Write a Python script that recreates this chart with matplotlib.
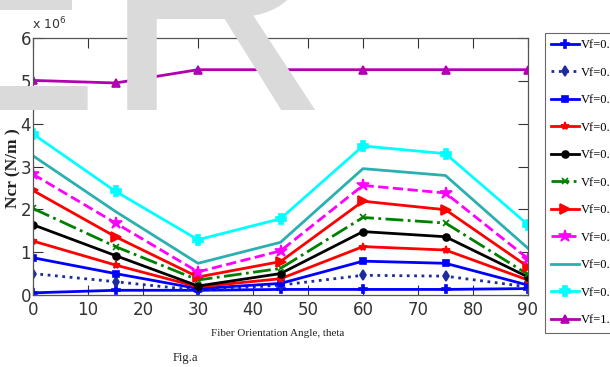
import matplotlib
matplotlib.use("Agg")
import matplotlib.pyplot as plt

# ─── Data (values in units of 1e6 N/m) ───────────────────────────────────────

theta = [0, 15, 30, 45, 60, 75, 90]

vf_labels = ["Vf=0.0", "Vf=0.1", "Vf=0.2", "Vf=0.3", "Vf=0.4", "Vf=0.5",
             "Vf=0.6", "Vf=0.7", "Vf=0.8", "Vf=0.9", "Vf=1.0"]

ncr_00 = [0.05, 0.11, 0.11, 0.13, 0.13, 0.13, 0.15]
ncr_01 = [0.50, 0.31, 0.11, 0.23, 0.46, 0.44, 0.19]
ncr_02 = [0.87, 0.50, 0.15, 0.27, 0.79, 0.74, 0.23]
ncr_03 = [1.26, 0.70, 0.19, 0.38, 1.13, 1.05, 0.35]
ncr_04 = [1.64, 0.92, 0.21, 0.50, 1.48, 1.36, 0.42]
ncr_05 = [2.02, 1.13, 0.35, 0.62, 1.81, 1.68, 0.48]
ncr_06 = [2.44, 1.36, 0.42, 0.78, 2.19, 1.99, 0.66]
ncr_07 = [2.82, 1.68, 0.54, 1.03, 2.56, 2.38, 0.85]
ncr_08 = [3.25, 1.95, 0.74, 1.23, 2.95, 2.79, 1.09]
ncr_09 = [3.76, 2.42, 1.29, 1.78, 3.48, 3.30, 1.64]
ncr_10 = [5.01, 4.95, 5.26, 5.26, 5.26, 5.26, 5.26]

series = [ncr_00, ncr_01, ncr_02, ncr_03, ncr_04, ncr_05,
          ncr_06, ncr_07, ncr_08, ncr_09, ncr_10]

# colour, linestyle, marker, markersize
styles = [
    ("#0000ff", "-",  "P", 6),
    ("#1c2c9c", ":",  "d", 5),
    ("#0000ff", "-",  "s", 5),
    ("#ff0000", "-",  "*", 6),
    ("#000000", "-",  "o", 5),
    ("#008000", "-.", "x", 5),
    ("#ff0000", "-",  ">", 7),
    ("#ff00ff", "--", "*", 9),
    ("#2ab0b0", "-",  "",  5),
    ("#00ffff", "-",  "P", 7),
    ("#b000b0", "-",  "^", 6),
]

NARROW = ["Liberation Sans Narrow", "DejaVu Sans"]
SERIF = ["Liberation Serif", "DejaVu Serif"]

fig = plt.figure(figsize=(6.1, 3.67), dpi=100)
fig.patch.set_facecolor("white")

# faint watermark lettering behind the plot
fig.text(-0.18, 0.700, "ER", fontsize=228, color="#dadada",
         family=["Liberation Sans", "DejaVu Sans"], ha="left", va="baseline",
         zorder=0)

ax = fig.add_axes([33 / 610, 1 - 295 / 367, (528 - 33) / 610, (295 - 38) / 367])
ax.set_facecolor("none")

for vals, lab, (col, ls, mk, ms) in zip(series, vf_labels, styles):
    ax.plot(theta, vals, color=col, linestyle=ls, marker=mk, markersize=ms,
            linewidth=2, markeredgewidth=1.2, label=lab)

ax.set_xlim(0, 90)
ax.set_ylim(0, 6)
ax.set_xticks(range(0, 91, 10))
ax.set_yticks(range(0, 7))
ax.tick_params(direction="in", length=7, width=0.8, top=True, right=True,
               labelsize=12, colors="#333333")
ax.tick_params(axis="x", pad=4)
ax.tick_params(axis="y", pad=1.5)
for lbl in ax.get_xticklabels() + ax.get_yticklabels():
    lbl.set_family(NARROW)
for sp in ax.spines.values():
    sp.set_color("#555555")
    sp.set_linewidth(0.9)

ax.set_xlabel("Fiber Orientation Angle, theta", family=SERIF, fontsize=8,
              color="#222222")
ax.xaxis.set_label_coords((278 - 33) / 495, -(334 - 295) / 257)
ax.xaxis.label.set_va("center")
ax.set_ylabel("Ncr (N/m )", family=SERIF, fontsize=12.5, fontweight="bold",
              color="#222222")
ax.yaxis.set_label_coords(-(33 - 13) / 495, (295 - 168) / 257)
ax.yaxis.label.set_va("center")

fig.text(32 / 610, 1 - 24 / 367, r"x 10$^6$", family=NARROW, fontsize=9,
         color="#333333", ha="left", va="center")
fig.text(185 / 610, 1 - 358 / 367, "Fig.a", family=SERIF, fontsize=9,
         color="#222222", ha="center", va="center")

leg = ax.legend(loc="upper left", bbox_to_anchor=(545 / 610, 1 - 33 / 367),
                bbox_transform=fig.transFigure, prop={"family": SERIF, "size": 9},
                frameon=True, fancybox=False, handlelength=2.2, handletextpad=0.2,
                labelspacing=1.24, borderpad=0.5, borderaxespad=0)
leg.get_frame().set_edgecolor("#444444")
leg.get_frame().set_linewidth(0.8)

fig.savefig("out.png", dpi=100, facecolor="white")
plt.close(fig)
